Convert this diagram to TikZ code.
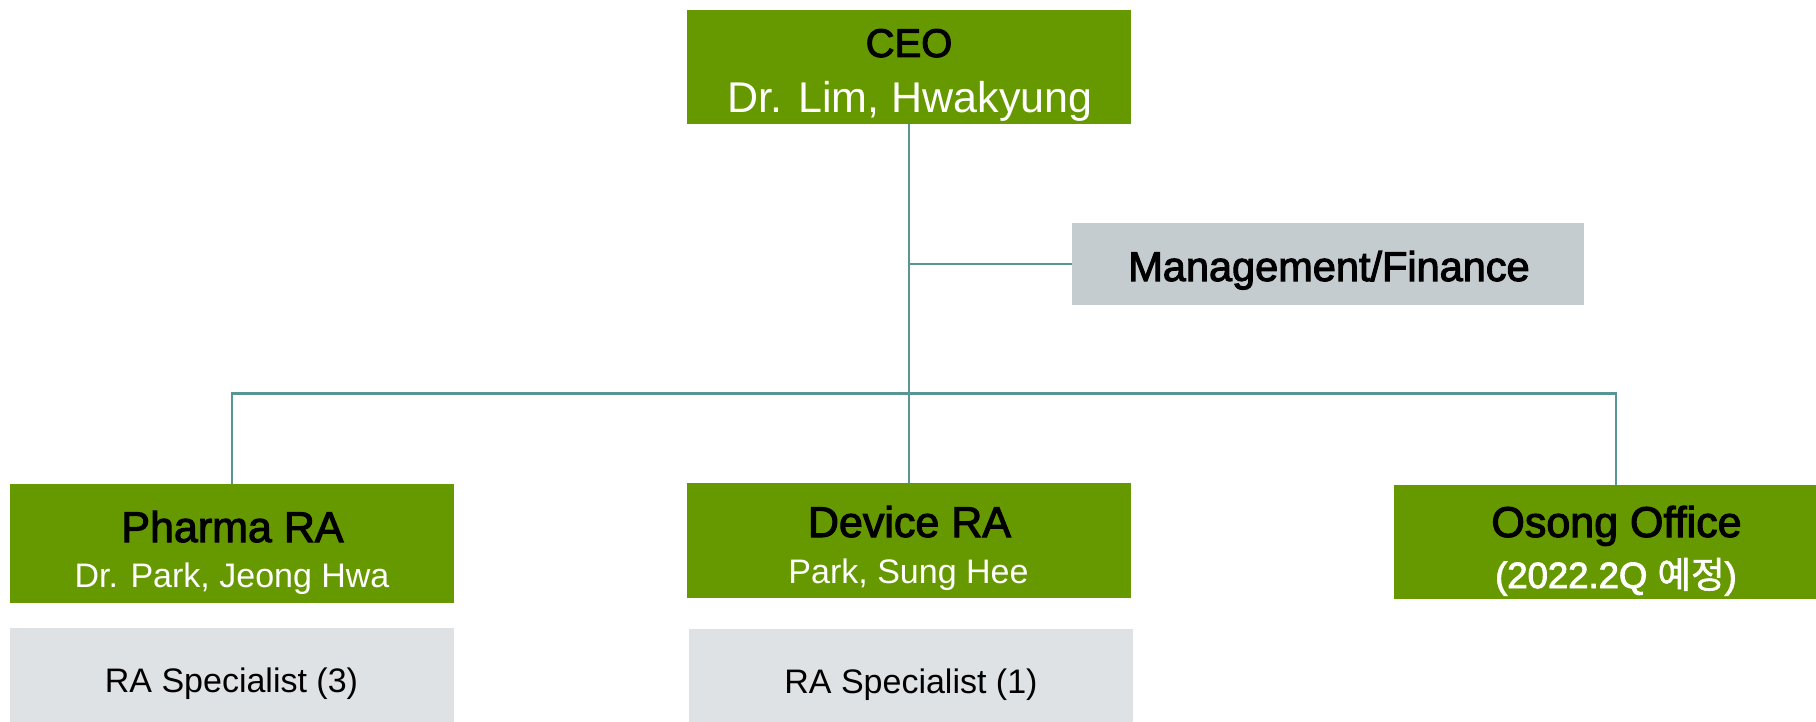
\documentclass[tikz,border=0pt]{standalone}
\usepackage{fontspec}
\setmainfont{Liberation Sans}
\newfontfamily\medfont[FakeBold=2.5]{Liberation Sans}
\newfontfamily\krfont[FakeBold=1.5]{Noto Sans CJK KR}
\definecolor{boxgreen}{HTML}{669900}
\definecolor{mgray}{HTML}{C5CCD0}
\definecolor{sgray}{HTML}{DFE2E5}
\definecolor{linkteal}{HTML}{589696}
\tikzset{
  greenbox/.style={fill=boxgreen, draw=none, inner sep=0pt, minimum width=444pt},
  graybox/.style={fill=mgray, draw=none, inner sep=0pt},
  specbox/.style={fill=sgray, draw=none, inner sep=0pt, minimum width=444pt},
  title/.style={anchor=base, inner sep=0pt, text=black, font=\medfont\fontsize{43}{50}\selectfont},
  sub/.style={anchor=base, inner sep=0pt, text=white, font=\fontsize{34}{40}\selectfont},
  spec/.style={anchor=base, inner sep=0pt, text=black, font=\fontsize{34}{40}\selectfont},
  link/.style={draw=linkteal, line width=2.5pt}
}
\begin{document}
\begin{tikzpicture}[x=1pt,y=-1pt]
\useasboundingbox (0,0) rectangle (1816,722);
% boxes
\node[greenbox, minimum height=114pt] (ceo) at (909,67) {};
\node[graybox, minimum width=512pt, minimum height=82pt] (mgmt) at (1328,264) {};
\node[greenbox, minimum height=119pt] (pharma) at (232,543.5) {};
\node[specbox, minimum height=100pt] (pspec) at (232,678) {};
\node[greenbox, minimum height=115pt] (device) at (909,540.5) {};
\node[specbox, minimum height=100pt] (dspec) at (911,679) {};
\node[greenbox, minimum height=114pt] (osong) at (1616,542) {};
% connectors
\coordinate (mj) at (ceo.south |- mgmt.west);
\coordinate (bus) at (909,393.5);
\draw[link] (ceo.south) -- (device.north);
\draw[link] (mj) -- (mgmt.west);
\draw[link] (bus) -| (pharma.north);
\draw[link] (bus) -| (osong.north);
% texts
\node[title, font=\medfont\fontsize{40}{48}\selectfont] (ceot) at (909,57) {CEO};
\node[sub, font=\fontsize{43}{50}\selectfont] (ceon) at (910,113) {Dr. Lim, Hwakyung};
\node[title, font=\medfont\fontsize{41.5}{48}\selectfont] (mgmtt) at (1329,281) {Management/Finance};
\node[title] (pharmat) at (232.5,542) {Pharma RA};
\node[sub] (pharman) at (232,587) {Dr. Park, Jeong Hwa};
\node[spec] (pspect) at (231.5,692) {RA Specialist (3)};
\node[title] (devicet) at (909.5,537) {Device RA};
\node[sub] (devicen) at (908.5,583) {Park, Sung Hee};
\node[spec] (dspect) at (911,693) {RA Specialist (1)};
\node[title] (osongt) at (1616.5,537) {Osong Office};
\node[sub, font=\medfont\fontsize{36.5}{42}\selectfont] (osongn) at (1616,588) {(2022.2Q {\krfont 예정})};
\end{tikzpicture}
\end{document}
